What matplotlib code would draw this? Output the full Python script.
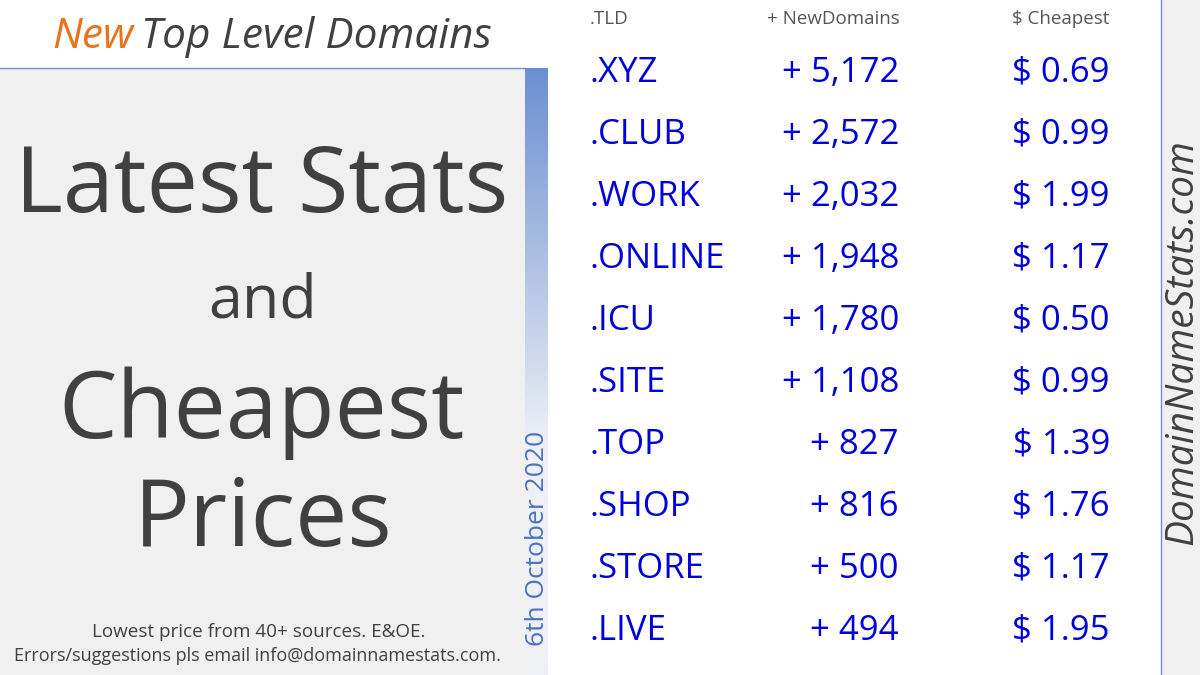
import numpy as np
import matplotlib.pyplot as plt
from matplotlib.patches import Rectangle

# Data
tlds = ['.XYZ', '.CLUB', '.WORK', '.ONLINE', '.ICU', '.SITE', '.TOP', '.SHOP', '.STORE', '.LIVE']
new_domains = [5172, 2572, 2032, 1948, 1780, 1108, 827, 816, 500, 494]
cheapest = [0.69, 0.99, 1.99, 1.17, 0.50, 0.99, 1.39, 1.76, 1.17, 1.95]
headers = ['.TLD', '+ NewDomains', '$ Cheapest']
report_date = '6th October 2020'

plt.rcParams['font.family'] = ['Open Sans', 'DejaVu Sans']

fig = plt.figure(figsize=(12, 6.75), dpi=100)
ax = fig.add_axes([0, 0, 1, 1])
ax.set_xlim(0, 1200)
ax.set_ylim(675, 0)
ax.axis('off')

dark = '#404040'
blue = '#0000dd'
panel = '#f0f0f0'
edge = '#7090c8'

# left grey panel
ax.add_patch(Rectangle((0, 68), 525, 607, facecolor=panel, edgecolor='none'))
ax.plot([0, 525], [68, 68], color=edge, lw=1)

# gradient bar
grad = np.ones((300, 1, 3))
top = np.array([0x6b, 0x8f, 0xd0]) / 255
bottom = np.array([0xee, 0xf0, 0xf5]) / 255
t = np.clip(np.linspace(0, 1, 300) / 0.62, 0, 1)[:, None]
grad[:, 0, :] = top * (1 - t) + bottom * t
ax.imshow(grad, extent=(525, 548, 675, 68), aspect='auto', zorder=1)

# right grey panel
ax.add_patch(Rectangle((1161, 0), 39, 675, facecolor=panel, edgecolor='none'))
ax.plot([1161, 1161], [0, 675], color=edge, lw=1)

# title
ax.text(52, 48, 'New', color='#e8731a', fontsize=30.5, style='italic', ha='left', va='baseline')
ax.text(492, 48, 'Top Level Domains', color=dark, fontsize=30.5, style='italic', ha='right', va='baseline')

# big text
ax.text(262, 212, 'Latest Stats', color=dark, fontsize=66, ha='center', va='baseline')
ax.text(263, 317, 'and', color=dark, fontsize=44, ha='center', va='baseline')
ax.text(262, 438, 'Cheapest', color=dark, fontsize=67, ha='center', va='baseline')
ax.text(263, 546, 'Prices', color=dark, fontsize=67, ha='center', va='baseline')

ax.text(259, 637, 'Lowest price from 40+ sources. E&OE.', color=dark, fontsize=13.6, ha='center', va='baseline')
ax.text(258, 661, 'Errors/suggestions pls email info@domainnamestats.com.', color=dark, fontsize=13,
        ha='center', va='baseline')

ax.text(538, 538, report_date, color='#4a72c0', fontsize=19, rotation=90, ha='center', va='center')
ax.text(1182, 342, 'DomainNameStats.com', color=dark, fontsize=28, style='italic', rotation=90,
        ha='center', va='center')

# table
ax.text(590, 24, headers[0], color='#555555', fontsize=13.5, ha='left', va='baseline')
ax.text(900, 24, headers[1], color='#555555', fontsize=13.5, ha='right', va='baseline')
ax.text(1109, 24, headers[2], color='#555555', fontsize=13.5, ha='right', va='baseline')

for i, (tld, n, p) in enumerate(zip(tlds, new_domains, cheapest)):
    y = 82 + 62 * i
    ax.text(590, y, tld, color=blue, fontsize=25, ha='left', va='baseline')
    ax.text(899, y, '+ {:,}'.format(n), color=blue, fontsize=25, ha='right', va='baseline')
    ax.text(1110, y, '$ {:.2f}'.format(p), color=blue, fontsize=25, ha='right', va='baseline')

fig.savefig('out.png', dpi=100, facecolor='white')
